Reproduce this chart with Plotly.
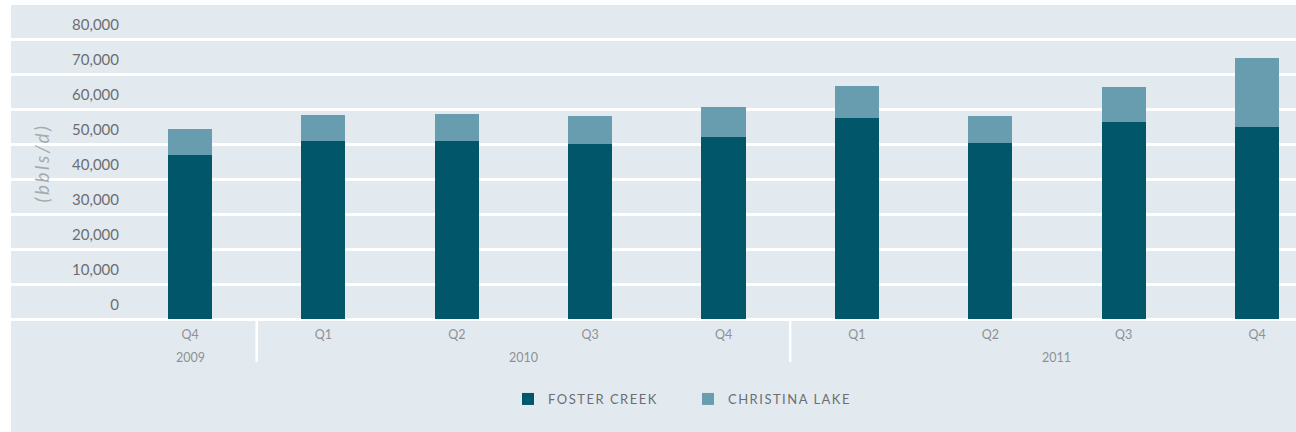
import plotly.graph_objects as go

# Quarterly oil sands production, stacked by project
years = ["2009", "2010", "2010", "2010", "2010", "2011", "2011", "2011", "2011"]
quarters = ["Q4", "Q1", "Q2", "Q3", "Q4", "Q1", "Q2", "Q3", "Q4"]
foster_creek = [46900, 50900, 50900, 50000, 52000, 57400, 50300, 56300, 54900]
christina_lake = [7400, 7400, 7700, 8000, 8600, 9200, 7700, 10000, 19700]

y_tick_values = [0, 10000, 20000, 30000, 40000, 50000, 60000, 70000, 80000]
y_tick_labels = ["0", "10,000", "20,000", "30,000", "40,000", "50,000",
                 "60,000", "70,000", "80,000"]

series_names = ["FOSTER CREEK", "CHRISTINA LAKE"]

# Page geometry (pixels)
W, H = 1296, 432
panel_left, panel_top = 11, 5
plot_bottom = 321
axis_px = 123           # where the value labels hang
zero_px = 319           # pixel row of the zero line
px_per_unit = 35 / 10000
cat_first_px, cat_step_px = 190, 133.375

plot_w = W - panel_left
plot_h = plot_bottom - panel_top

y_min = -(plot_bottom - zero_px) / px_per_unit
y_max = (zero_px - panel_top) / px_per_unit
x_min = -(cat_first_px - panel_left) / cat_step_px
x_max = (W - cat_first_px) / cat_step_px

DARK = "#02566a"
LIGHT = "#679dae"
PANEL = "#e2eaf0"
FONT = "Lato"
AXIS_GREY = "#8e9193"

# one unique category per quarter, labelled with the quarter only
categories = [f"{y} {q}" for y, q in zip(years, quarters)]


def to_paper_y(px):
    return (plot_bottom - px) / plot_h


def spaced(text, px):
    return f"<span style='letter-spacing:{px}px'>{text}</span>"


fig = go.Figure()
fig.add_trace(go.Bar(
    x=categories, y=foster_creek, name=spaced(series_names[0], 1.5),
    marker=dict(color=DARK, line=dict(width=0)), width=0.33,
))
fig.add_trace(go.Bar(
    x=categories, y=christina_lake, name=spaced(series_names[1], 1.5),
    marker=dict(color=LIGHT, line=dict(width=0)), width=0.33,
))

# year labels centred under each group, white dividers between groups
shapes = [dict(
    type="rect", xref="paper", yref="paper", layer="below",
    x0=0, x1=1, y0=to_paper_y(H), y1=1,
    fillcolor=PANEL, line=dict(width=0),
)]
annotations = []
unique_years = list(dict.fromkeys(years))
for k, yr in enumerate(unique_years):
    idx = [i for i, v in enumerate(years) if v == yr]
    annotations.append(dict(
        x=sum(idx) / len(idx), xref="x", y=to_paper_y(357), yref="paper",
        text=yr, showarrow=False, xanchor="center", yanchor="middle",
        font=dict(family=FONT, size=12.5, color=AXIS_GREY),
    ))
    if k > 0:
        shapes.append(dict(
            type="line", xref="x", yref="paper",
            x0=idx[0] - 0.5, x1=idx[0] - 0.5,
            y0=to_paper_y(zero_px + 1), y1=to_paper_y(362),
            line=dict(color="white", width=2.5),
        ))

fig.update_layout(
    width=W, height=H,
    margin=dict(l=panel_left, r=0, t=panel_top, b=H - plot_bottom, autoexpand=False),
    paper_bgcolor="white",
    plot_bgcolor="rgba(0,0,0,0)",
    barmode="stack",
    font=dict(family=FONT, color="#6d6e71"),
    shapes=shapes,
    annotations=annotations,
    xaxis=dict(
        type="category",
        range=[x_min, x_max],
        tickmode="array", tickvals=categories, ticktext=quarters,
        showgrid=False, zeroline=False, showline=False, ticks="",
        ticklabelstandoff=4,
        tickfont=dict(family=FONT, size=12.5, color=AXIS_GREY),
    ),
    yaxis=dict(
        anchor="free", position=(axis_px - panel_left) / plot_w,
        range=[y_min, y_max],
        tickmode="array", tickvals=y_tick_values, ticktext=y_tick_labels,
        showgrid=True, gridcolor="white", gridwidth=2.5,
        zeroline=True, zerolinecolor="white", zerolinewidth=2.5,
        showline=False, ticks="",
        ticklabelshift=-14, ticklabelstandoff=4,
        tickfont=dict(family=FONT, size=15, color="#6d6e71"),
        title=dict(text=spaced("(bbls/d)", 2.5), standoff=16,
                   font=dict(family=FONT, size=19, color="#a6aaad", style="italic")),
    ),
    legend=dict(
        orientation="h", traceorder="normal",
        x=(688 - panel_left) / plot_w, xanchor="center",
        y=to_paper_y(399), yanchor="middle",
        font=dict(family=FONT, size=13, color="#6d6e71"),
        bgcolor="rgba(0,0,0,0)",
        entrywidth=135, entrywidthmode="pixels",
    ),
    bargap=0.67,
    showlegend=True,
)

fig.write_html("out.html")
